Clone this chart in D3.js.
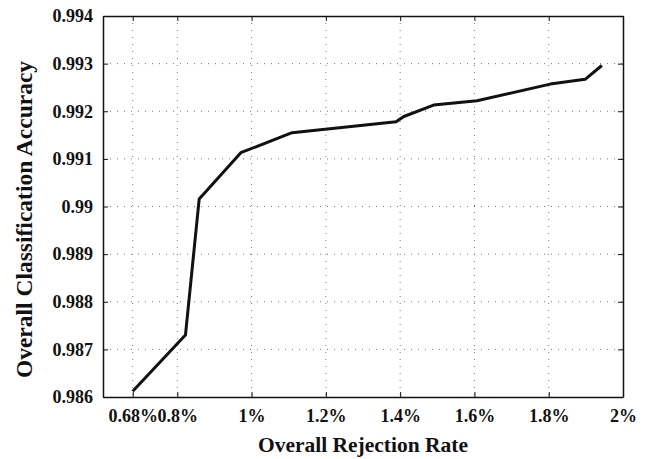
<!DOCTYPE html>
<html>
<head>
<meta charset="utf-8">
<script src="https://cdn.jsdelivr.net/npm/d3@7"></script>
<style>
  body { margin: 0; background: #fff; }
  text { font-family: "Liberation Serif", "Times New Roman", serif; font-weight: bold; fill: #111; }
</style>
</head>
<body>
<svg width="646" height="459"></svg>
<script>
// Rejection rate (%) vs classification accuracy
let rejectionRate = [0.68, 0.822, 0.859, 0.971, 1.109, 1.389, 1.41, 1.49, 1.607, 1.804, 1.898, 1.943];
let accuracy = [0.98612, 0.98730, 0.99016, 0.99113, 0.99155, 0.99178, 0.99189, 0.99213, 0.99222, 0.99257, 0.99267, 0.99296];
let xTicks = [0.68, 0.8, 1.0, 1.2, 1.4, 1.6, 1.8, 2.0];
let xTickLabels = ["0.68%", "0.8%", "1%", "1.2%", "1.4%", "1.6%", "1.8%", "2%"];
let yTicks = [0.986, 0.987, 0.988, 0.989, 0.99, 0.991, 0.992, 0.993, 0.994];

let data = rejectionRate.map((r, i) => ({rate: r, acc: accuracy[i]}));

let margin = {top: 16, right: 23, bottom: 62, left: 103};
let width = 646 - margin.left - margin.right;
let height = 459 - margin.top - margin.bottom;

let x = d3.scaleLinear().domain([0.6, 2.0]).range([0, width]);
let y = d3.scaleLinear().domain([0.986, 0.994]).range([height, 0]);

let svg = d3.select("svg").append("g")
    .attr("transform", "translate(" + margin.left + "," + margin.top + ")");

// Dotted grid
svg.append("g").selectAll("line.vg")
    .data(xTicks.filter(t => t > 0.6 && t < 2.0))
    .enter().append("line")
    .attr("x1", d => x(d)).attr("x2", d => x(d))
    .attr("y1", 0).attr("y2", height)
    .attr("stroke", "#777").attr("stroke-width", 1)
    .attr("stroke-dasharray", "1,6");

svg.append("g").selectAll("line.hg")
    .data(yTicks.filter(t => t > 0.986 && t < 0.994))
    .enter().append("line")
    .attr("x1", 0).attr("x2", width)
    .attr("y1", d => y(d)).attr("y2", d => y(d))
    .attr("stroke", "#777").attr("stroke-width", 1)
    .attr("stroke-dasharray", "1,6");

// Axes with inward ticks
let fmtX = (d, i) => xTickLabels[i];

let xAxis = svg.append("g")
    .attr("transform", "translate(0," + height + ")")
    .call(d3.axisBottom(x).tickValues(xTicks).tickFormat(fmtX).tickSizeInner(-5).tickSizeOuter(0).tickPadding(12));

let xTop = svg.append("g")
    .call(d3.axisTop(x).tickValues(xTicks).tickFormat("").tickSizeInner(-5).tickSizeOuter(0));

let yAxis = svg.append("g")
    .call(d3.axisLeft(y).tickValues(yTicks).tickFormat(d => d3.format("")(+d.toFixed(3))).tickSizeInner(-5).tickSizeOuter(0).tickPadding(10));

let yRight = svg.append("g")
    .attr("transform", "translate(" + width + ",0)")
    .call(d3.axisRight(y).tickValues(yTicks).tickFormat("").tickSizeInner(-5).tickSizeOuter(0));

svg.selectAll(".domain").attr("stroke", "#111").attr("stroke-width", 1.5);
svg.selectAll(".tick line").attr("stroke", "#111").attr("stroke-width", 1);
svg.selectAll(".tick text")
    .style("font-family", "'Liberation Serif', serif")
    .style("font-weight", "bold")
    .style("font-size", "18px")
    .attr("fill", "#111");

// Line
let valueline = d3.line()
    .x(d => x(d.rate))
    .y(d => y(d.acc));

svg.append("path")
    .datum(data)
    .attr("fill", "none")
    .attr("stroke", "#111")
    .attr("stroke-width", 3)
    .attr("stroke-linejoin", "round")
    .attr("d", valueline);

// Axis titles
svg.append("text")
    .attr("x", width / 2)
    .attr("y", height + 55)
    .attr("text-anchor", "middle")
    .style("font-size", "21.5px")
    .text("Overall Rejection Rate");

svg.append("text")
    .attr("transform", "translate(" + (-71) + "," + (height / 2 + 13) + ") rotate(-90)")
    .attr("text-anchor", "middle")
    .style("font-size", "23.5px")
    .text("Overall Classification Accuracy");
</script>
</body>
</html>
